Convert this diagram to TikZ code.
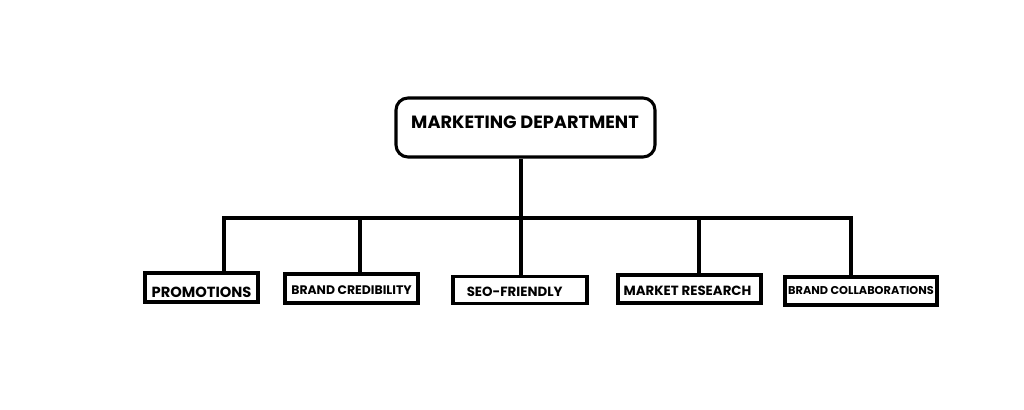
\documentclass[tikz,border=0pt]{standalone}
\usepackage{fontspec}
\setmainfont{Poppins}
\newcommand{\dropby}[2]{\raisebox{-#1}[\height][\depth]{#2}}
\begin{document}
\begin{tikzpicture}[x=0.75pt,y=-0.75pt,
  conn/.style={line width=2.4pt},
  leaf/.style={draw,line width=2.3pt,inner sep=0pt,font=\bfseries},
  head/.style={draw,line width=2.3pt,rounded corners=9pt,inner sep=0pt}]
\useasboundingbox (0,0) rectangle (1024,410);
\node[head,minimum width=259*0.75pt,minimum height=59*0.75pt] (md) at (525.5,127.5) {};
\node[font=\bfseries\fontsize{13.3}{15}\selectfont] (mdt) at (525,122) {MARKETING DEPARTMENT};
\node[leaf,minimum width=113*0.75pt,minimum height=29*0.75pt,font=\bfseries\fontsize{11}{12}\selectfont] (p) at (201.5,287.5) {\dropby{3.5pt}{PROMOTIONS}};
\node[leaf,minimum width=133*0.75pt,minimum height=29*0.75pt,font=\bfseries\fontsize{9.3}{11}\selectfont] (bc) at (351.5,288.5) {\dropby{1.5pt}{BRAND CREDIBILITY}};
\node[leaf,minimum width=134*0.75pt,minimum height=27*0.75pt,font=\bfseries\fontsize{10}{11}\selectfont] (seo) at (520,290) {\hspace*{-8pt}\dropby{1.5pt}{SEO-FRIENDLY}};
\node[leaf,minimum width=143*0.75pt,minimum height=28*0.75pt,font=\bfseries\fontsize{10}{11}\selectfont] (mr) at (689.5,289) {\hspace*{-3pt}\dropby{1.5pt}{MARKET RESEARCH}};
\node[leaf,minimum width=152*0.75pt,minimum height=28*0.75pt,font=\bfseries\fontsize{8.5}{10}\selectfont] (bcol) at (861,291) {BRAND COLLABORATIONS};
\coordinate (hub) at (521,218);
\draw[conn] (md.south -| hub) -- (hub);
\draw[conn] (p.north -| 224,0) |- (hub);
\draw[conn] (bcol.north -| 851,0) |- (hub);
\draw[conn] (bc.north -| 360,0) -- (360,218);
\draw[conn] (seo.north -| hub) -- (hub);
\draw[conn] (mr.north -| 699,0) -- (699,218);
\end{tikzpicture}
\end{document}
